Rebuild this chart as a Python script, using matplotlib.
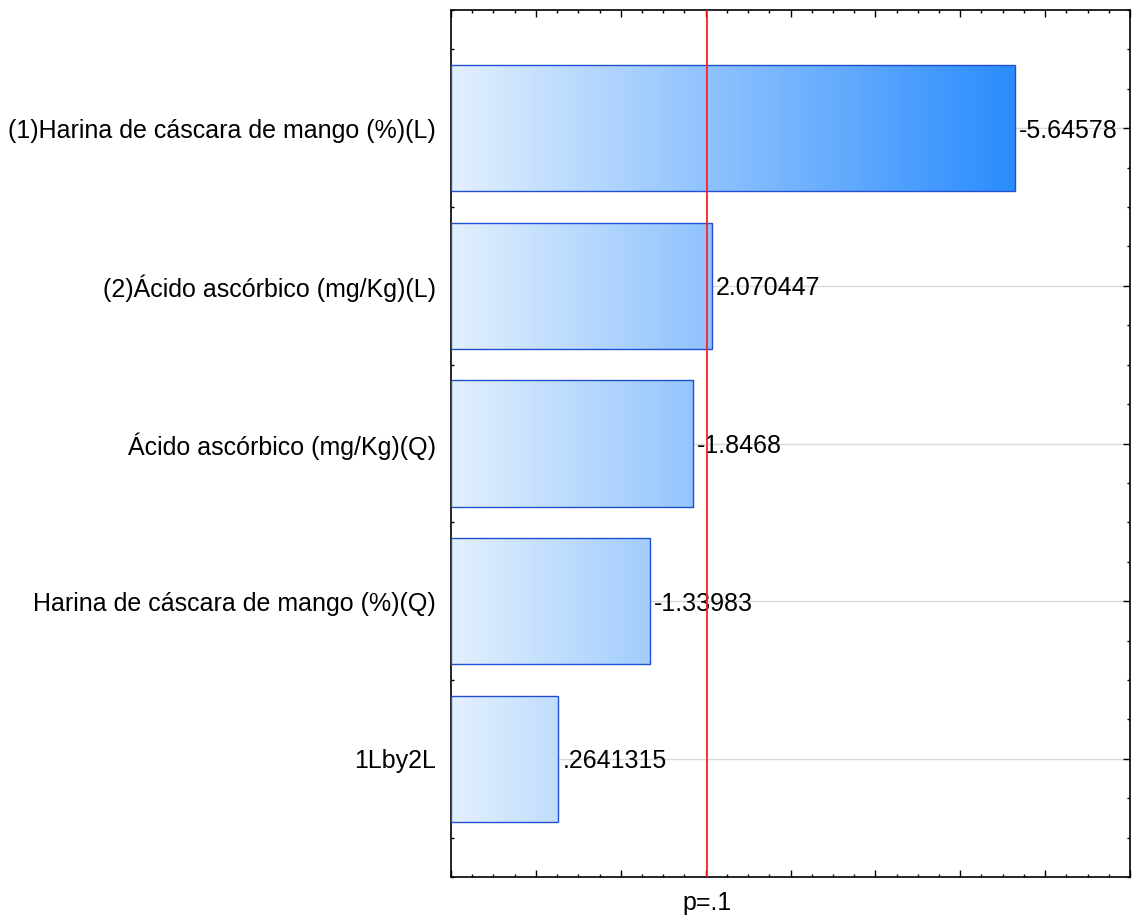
import numpy as np
import matplotlib.pyplot as plt
from matplotlib.colors import LinearSegmentedColormap
from matplotlib.ticker import MultipleLocator

plt.rcParams['font.family'] = ['Liberation Sans', 'DejaVu Sans']

factors = [
    "(1)Harina de cáscara de mango (%)(L)",
    "(2)Ácido ascórbico (mg/Kg)(L)",
    "Ácido ascórbico (mg/Kg)(Q)",
    "Harina de cáscara de mango (%)(Q)",
    "1Lby2L",
]
effects = [-5.64578, 2.070447, -1.8468, -1.33983, 0.2641315]
effect_labels = ["-5.64578", "2.070447", "-1.8468", "-1.33983", ".2641315"]
p_critical = 2.015
p_label = "p=.1"

xmin, xmax = -1, 7
fs = 18

fig = plt.figure(figsize=(11.33, 9.15), dpi=100)
ax = fig.add_axes([451 / 1133, 38 / 915, 679 / 1133, 867 / 915])

cmap = LinearSegmentedColormap.from_list("grad", ["#e3f0fe", "#2a8cfd"])
sizes = np.abs(effects)
ypos = np.arange(len(factors))
grad = np.linspace(0, 1, 256).reshape(1, -1)

ax.set_xlim(xmin, xmax)
ax.set_ylim(len(factors) - 0.25, -0.75)

for y in ypos:
    ax.axhline(y, color="#d9d9d9", lw=1, zorder=0)

bars = ax.barh(ypos, sizes - xmin, left=xmin, height=0.8,
               facecolor="none", edgecolor="#2050d0", lw=1, zorder=3)
for bar in bars:
    im = ax.imshow(grad, cmap=cmap, aspect="auto", zorder=2,
                   extent=[xmin, sizes.max(), len(factors), -1])
    im.set_clip_path(bar)

for y, s, lab in zip(ypos, sizes, effect_labels):
    ax.text(s + 0.05, y, lab, va="center_baseline", ha="left", fontsize=fs, zorder=4)

ax.axvline(p_critical, color="#ff2020", lw=1.3, zorder=5)
ax.text(p_critical, -0.03, p_label, transform=ax.get_xaxis_transform(),
        ha="center", va="center", fontsize=fs)

ax.set_yticks(ypos)
ax.set_yticklabels(factors, fontsize=fs, va="center_baseline")
ax.yaxis.set_minor_locator(MultipleLocator(0.25))
ax.xaxis.set_major_locator(MultipleLocator(1))
ax.xaxis.set_minor_locator(MultipleLocator(0.25))
ax.set_xticklabels([])
ax.tick_params(which="both", direction="in", top=True, right=True, width=1)
ax.tick_params(which="major", length=5, pad=11)
ax.tick_params(which="minor", length=2.5)
for sp in ax.spines.values():
    sp.set_linewidth(1.2)

fig.savefig("out.png", dpi=100)
